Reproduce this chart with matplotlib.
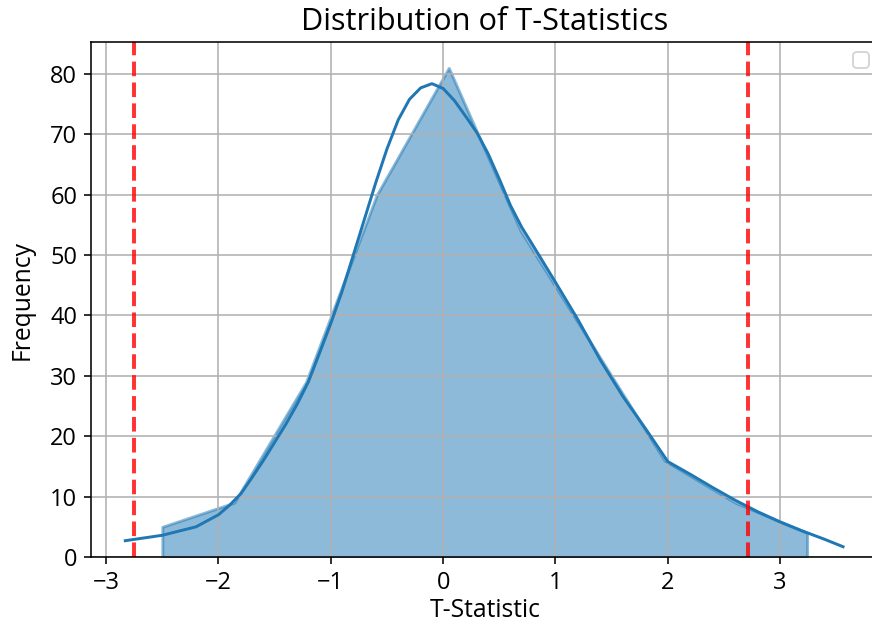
import matplotlib
matplotlib.use("Agg")
import matplotlib.pyplot as plt

plt.rcParams["font.family"] = ["Open Sans", "DejaVu Sans"]

# histogram polygon (bin centres and counts)
bin_centres = [-2.50, -1.86, -1.22, -0.59, 0.05, 0.69, 1.33, 1.97, 2.60, 3.24]
counts = [5, 9, 29, 60, 81, 54, 35, 16, 9, 4]

# kde curve
kde_x = [-2.83, -2.5, -2.2, -2.0, -1.9, -1.8, -1.7, -1.6, -1.5, -1.4, -1.3, -1.2,
         -1.1, -1.0, -0.9, -0.8, -0.7, -0.6, -0.5, -0.4, -0.3, -0.2, -0.1, 0.0,
         0.1, 0.2, 0.3, 0.4, 0.5, 0.6, 0.7, 0.8, 1.0, 1.2, 1.4, 1.6, 1.8, 2.0,
         2.2, 2.4, 2.6, 2.8, 3.0, 3.2, 3.4, 3.56]
kde_y = [2.7, 3.6, 5.0, 7.0, 8.6, 10.5, 13.2, 16.0, 19.0, 22.0, 25.3, 29.0,
         33.8, 38.7, 44.0, 50.0, 56.0, 62.0, 67.6, 72.4, 75.8, 77.7, 78.4, 77.6,
         75.6, 73.0, 70.3, 66.8, 62.6, 58.2, 54.6, 51.6, 45.5, 39.3, 32.6, 26.6,
         21.3, 15.8, 13.7, 11.5, 9.4, 7.5, 5.8, 4.3, 2.9, 1.7]

# critical values
crit = [-2.75, 2.71]

fig = plt.figure(figsize=(872 / 142, 632 / 142), dpi=142)
ax = fig.add_axes([91 / 872, 75 / 632, (879 - 91) / 872, (590 - 75) / 632])

ax.fill_between(bin_centres, 0, counts, color="#1f77b4", alpha=0.5, linewidth=1.5)
ax.plot(kde_x, kde_y, color="#1f77b4", linewidth=1.5)
for c in crit:
    ax.axvline(c, color="red", linestyle="--", linewidth=2, alpha=0.8)

ax.set_xlim(-3.135, 3.88)
ax.set_ylim(0, 85.3)
ax.set_title("Distribution of T-Statistics", fontsize=15.5)
ax.set_xlabel("T-Statistic", fontsize=12.5, labelpad=1.5)
ax.set_ylabel("Frequency", fontsize=12.5, labelpad=8)
ax.tick_params(labelsize=12)
ax.grid(True)
ax.legend(handles=[], loc="upper right")

fig.savefig("out.png", dpi=142)
